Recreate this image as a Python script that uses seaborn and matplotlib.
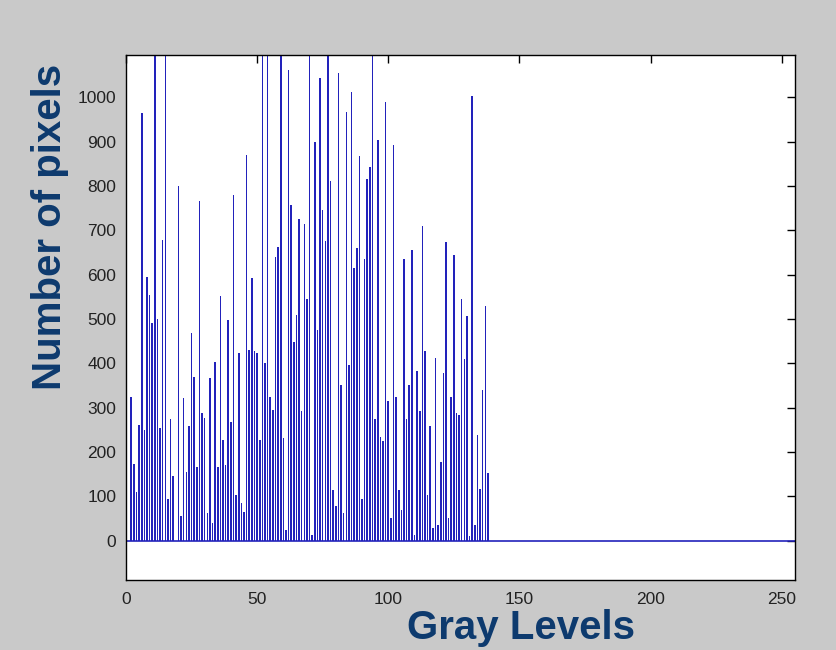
import numpy as np
import matplotlib
matplotlib.use("Agg")
import matplotlib.pyplot as plt
import seaborn as sns

# histogram counts per gray level (0..138); tall clipped ones set to 1200
counts = [
    158, 0, 325, 173, 110, 260, 965, 250, 596, 555, 492, 1200, 500, 255, 679, 1200,
    95, 274, 146, 0, 799, 55, 322, 155,
    259, 469, 370, 166, 767, 288, 277, 63, 367, 41, 404, 166, 551, 228, 170, 498,
    269, 780, 104, 424, 86, 64, 870, 431,
    592, 427, 424, 228, 1200, 402, 1200, 325, 295, 641, 663, 1200, 231, 25, 1062, 758,
    449, 510, 725, 292, 715, 545, 1200, 14, 900, 476,
    1043, 746, 675, 1200, 812, 115, 79, 1054, 352, 62, 968, 397, 1013, 615, 660, 867,
    94, 635, 816, 844, 1200, 274, 904, 235, 224,
    990, 316, 52, 893, 325, 115, 70, 635, 274, 352, 656, 14, 382, 292, 710, 427,
    104, 259, 29, 412, 36, 177, 378, 673, 52,
    325, 645, 288, 284, 545, 410, 506, 10, 1002, 35, 239, 116, 340, 530, 153,
]
levels = np.arange(len(counts))

x_ticks = [0, 50, 100, 150, 200, 250]
y_ticks = [0, 100, 200, 300, 400, 500, 600, 700, 800, 900, 1000]

sns.set_style("white")
plt.rcParams['font.family'] = ['Liberation Sans', 'DejaVu Sans']

stem_blue = '#2222bb'
navy = '#0d3a6e'

fig = plt.figure(figsize=(8.36, 6.5), dpi=100, facecolor='#c9c9c9')
ax = fig.add_axes([0.1507, 0.108, 0.800, 0.807])
ax.set_facecolor('white')

sns.barplot(x=levels, y=counts, native_scale=True, width=0.6, color=stem_blue,
            saturation=1, linewidth=0, ax=ax)
ax.axhline(0, color=stem_blue, lw=1.2)

ax.set_xlim(0, 255)
ax.set_ylim(-88, 1095)
ax.set_xticks(x_ticks)
ax.set_yticks(y_ticks)
ax.set_xticklabels([str(t) for t in x_ticks])
ax.set_yticklabels([str(t) for t in y_ticks])
ax.set_xlabel('')
ax.set_ylabel('')

ax.tick_params(direction='in', length=6, width=1, colors='black',
               top=True, right=True, labelsize=12.5, labelcolor='#222222')
ax.tick_params(axis='x', pad=9)
ax.tick_params(axis='y', pad=7)
for sp in ax.spines.values():
    sp.set_color('black')
    sp.set_linewidth(1)

fig.text(521 / 836, 1 - 628 / 650, 'Gray Levels', ha='center', va='center',
         fontsize=29, fontweight='bold', color=navy)
fig.text(50 / 836, 1 - 227 / 650, 'Number of pixels', ha='center', va='center',
         rotation=90, fontsize=29, fontweight='bold', color=navy)

fig.savefig('out.png', dpi=100, facecolor=fig.get_facecolor())
